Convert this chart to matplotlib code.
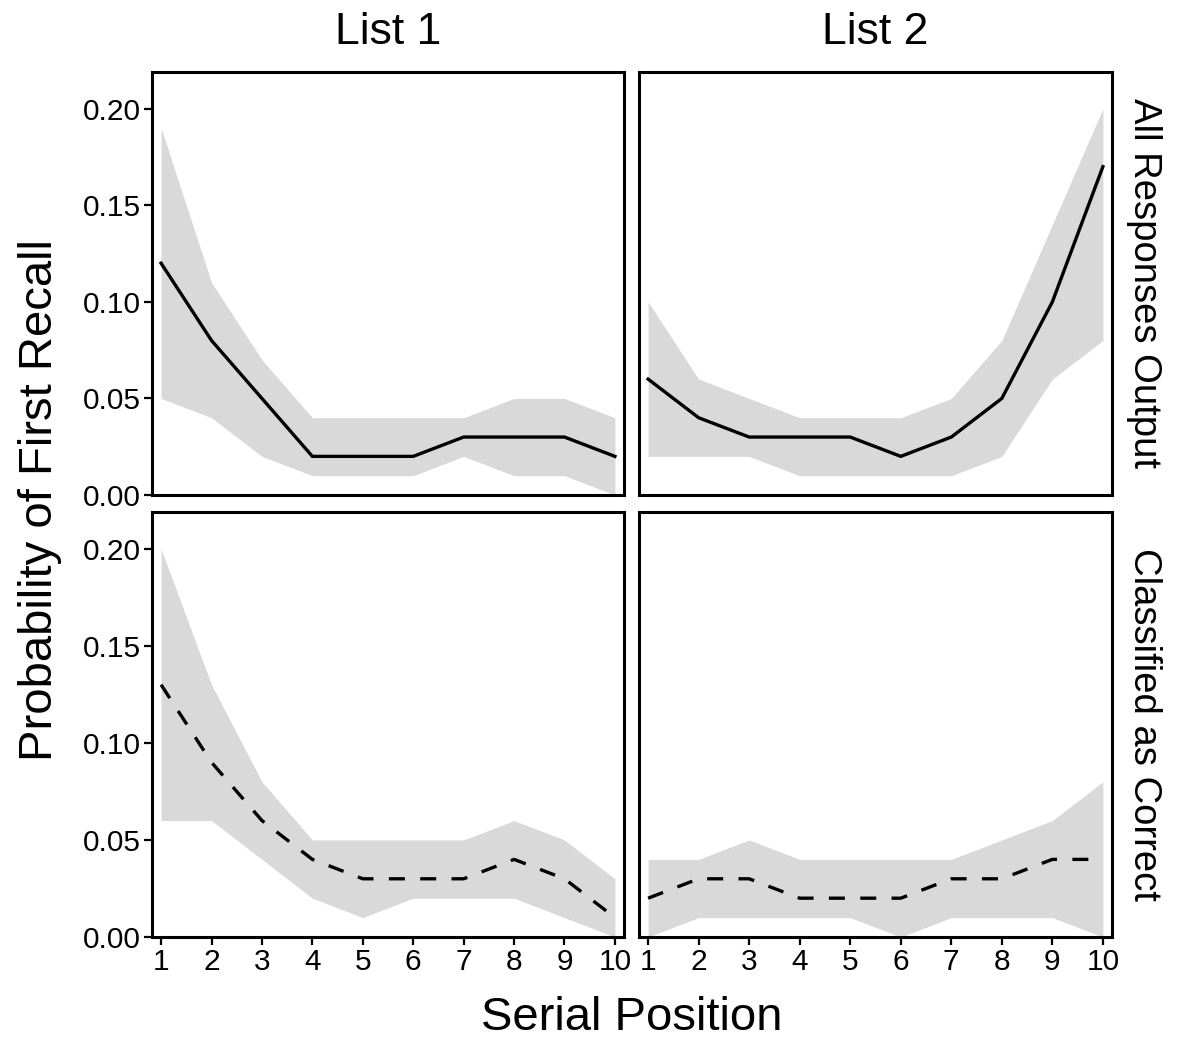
import matplotlib
matplotlib.use("Agg")
import matplotlib.pyplot as plt
import numpy as np

plt.rcParams['font.family'] = ['Liberation Sans', 'DejaVu Sans']

positions = [1, 2, 3, 4, 5, 6, 7, 8, 9, 10]
col_titles = ["List 1", "List 2"]
row_titles = ["All Responses Output", "Classified as Correct"]

# All Responses Output
all_l1_mean = [0.12, 0.08, 0.05, 0.02, 0.02, 0.02, 0.03, 0.03, 0.03, 0.02]
all_l1_low = [0.05, 0.04, 0.02, 0.01, 0.01, 0.01, 0.02, 0.01, 0.01, 0.00]
all_l1_high = [0.19, 0.11, 0.07, 0.04, 0.04, 0.04, 0.04, 0.05, 0.05, 0.04]

all_l2_mean = [0.06, 0.04, 0.03, 0.03, 0.03, 0.02, 0.03, 0.05, 0.10, 0.17]
all_l2_low = [0.02, 0.02, 0.02, 0.01, 0.01, 0.01, 0.01, 0.02, 0.06, 0.08]
all_l2_high = [0.10, 0.06, 0.05, 0.04, 0.04, 0.04, 0.05, 0.08, 0.14, 0.20]

# Classified as Correct
cor_l1_mean = [0.13, 0.09, 0.06, 0.04, 0.03, 0.03, 0.03, 0.04, 0.03, 0.01]
cor_l1_low = [0.06, 0.06, 0.04, 0.02, 0.01, 0.02, 0.02, 0.02, 0.01, 0.00]
cor_l1_high = [0.20, 0.13, 0.08, 0.05, 0.05, 0.05, 0.05, 0.06, 0.05, 0.03]

cor_l2_mean = [0.02, 0.03, 0.03, 0.02, 0.02, 0.02, 0.03, 0.03, 0.04, 0.04]
cor_l2_low = [0.00, 0.01, 0.01, 0.01, 0.01, 0.00, 0.01, 0.01, 0.01, 0.00]
cor_l2_high = [0.04, 0.04, 0.05, 0.04, 0.04, 0.04, 0.04, 0.05, 0.06, 0.08]

y_ticks = [0.00, 0.05, 0.10, 0.15, 0.20]
y_ticklabels = ["0.00", "0.05", "0.10", "0.15", "0.20"]

panels = [
    [(all_l1_mean, all_l1_low, all_l1_high), (all_l2_mean, all_l2_low, all_l2_high)],
    [(cor_l1_mean, cor_l1_low, cor_l1_high), (cor_l2_mean, cor_l2_low, cor_l2_high)],
]
linestyles = ['-', (0, (4.8, 4.6))]

W, H = 1181, 1042
fig = plt.figure(figsize=(W / 100, H / 100), dpi=100)

xs = [(152, 624), (639, 1112)]
ys = [(72, 495), (512, 937)]

for r in range(2):
    for c in range(2):
        x0, x1 = xs[c]
        y0, y1 = ys[r]
        ax = fig.add_axes([x0 / W, 1 - y1 / H, (x1 - x0) / W, (y1 - y0) / H])
        mean, low, high = panels[r][c]
        ax.fill_between(positions, low, high, color='#D9D9D9', linewidth=0)
        ax.plot(positions, mean, color='black', linewidth=2.4, linestyle=linestyles[r],
                solid_joinstyle='miter', dash_capstyle='butt')
        ax.set_xlim(0.82, 10.18)
        ax.set_ylim(0, 0.219)
        ax.set_xticks(positions)
        ax.set_yticks(y_ticks)
        for s in ax.spines.values():
            s.set_linewidth(2.2)
            s.set_color('black')
        ax.tick_params(axis='both', length=6, width=1.6, color='black',
                       labelsize=21.5, pad=2, direction='out')
        if r == 1:
            ax.set_xticklabels([str(p) for p in positions])
        else:
            ax.tick_params(axis='x', bottom=False, labelbottom=False)
        if c == 0:
            ax.set_yticklabels(y_ticklabels)
        else:
            ax.tick_params(axis='y', left=False, labelleft=False)
        if r == 0:
            ax.text(0.5, 1.0 + 39 / (y1 - y0), col_titles[c], transform=ax.transAxes,
                    ha='center', va='center', fontsize=32)
        if c == 1:
            ax.text(1.0 + 32 / (x1 - x0), 0.5, row_titles[r], transform=ax.transAxes,
                    ha='center', va='center', rotation=-90, fontsize=27.5)

fig.text(40 / W, 1 - 500 / H, "Probability of First Recall", rotation=90,
         ha='center', va='center', fontsize=34)
fig.text(632 / W, 1 - 1018 / H, "Serial Position", ha='center', va='center', fontsize=34)

fig.savefig("out.png", dpi=100, facecolor='white')
